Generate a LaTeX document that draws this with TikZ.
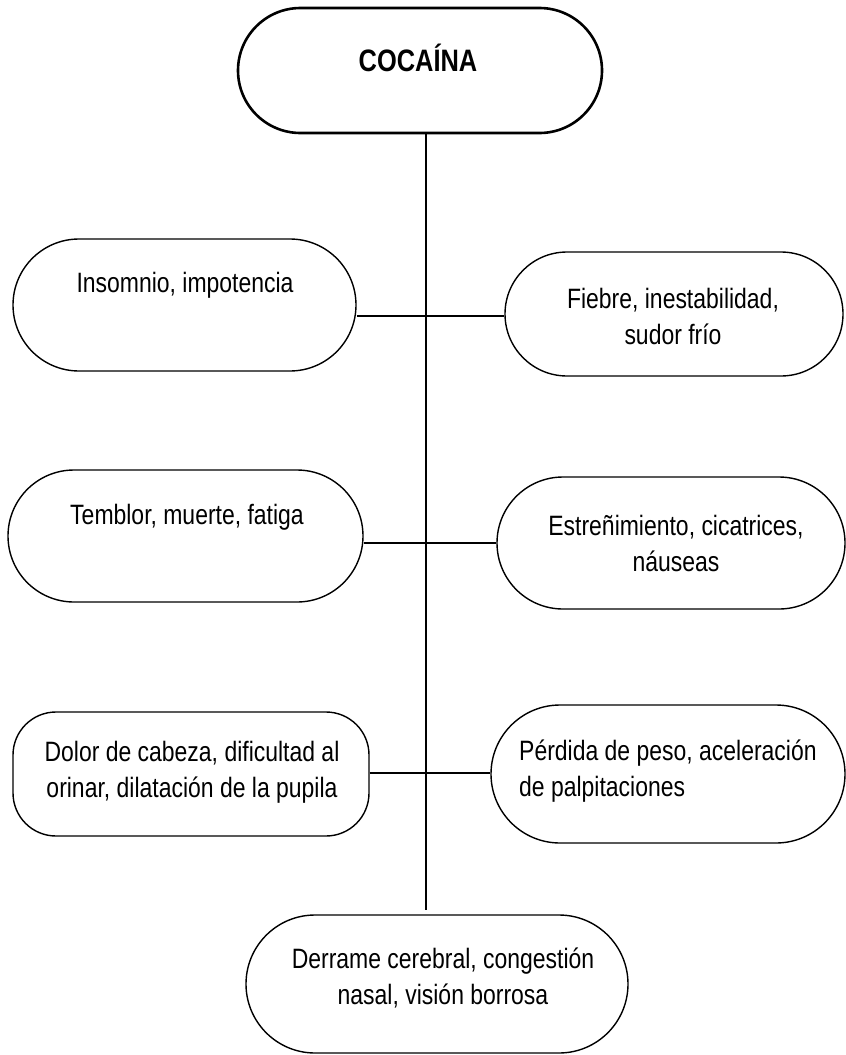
\documentclass[tikz,border=0pt]{standalone}
\usepackage{fontspec}
\setmainfont{Liberation Sans}[FakeStretch=0.82]
\usetikzlibrary{shapes,positioning}
\def\Droga{COCAÍNA}

\begin{document}
\begin{tikzpicture}[x=1pt,y=-1pt,% List of styles applied to all, to override specify on a case-by-case
			every node/.style={
				align=center,	% use this so that the "\\" for line break works
				inner sep=0pt	% text sits exactly where it is placed
			},
			caja/.style={rounded rectangle,draw=black,fill=white,line width=1.4pt},
			texto/.style={font=\fontsize{28}{36}\selectfont},
			every edge/.style={draw,line width=1.4pt}
		]
		\useasboundingbox (0,0) rectangle (846,1055);
		% boxes
		\node[caja,line width=2.6pt,minimum width=364pt,minimum height=125pt](C0) at (420,70.5){};
		\node[caja,minimum width=343pt,minimum height=132pt](L1) at (184.5,305){};
		\node[caja,minimum width=338pt,minimum height=124pt](R1) at (674,314){};
		\node[caja,minimum width=355pt,minimum height=132pt](L2) at (185.5,536){};
		\node[caja,minimum width=348pt,minimum height=132pt](R2) at (671,543){};
		\node[rectangle,rounded corners=43pt,draw=black,line width=1.4pt,minimum width=356pt,minimum height=124pt](L3) at (191,774){};
		\node[caja,minimum width=354pt,minimum height=138pt](R3) at (668,774){};
		\node[caja,minimum width=382pt,minimum height=138pt](B0) at (437,984){};
		% texts
		\node[font=\fontsize{31}{36}\selectfont\bfseries](T0) at (418,58){\Droga};
		\node[texto](T1) at (185,285){Insomnio, impotencia};
		\node[texto](T2) at (673,316){Fiebre, inestabilidad,\\sudor frío};
		\node[texto](T3) at (187,517){Temblor, muerte, fatiga};
		\node[texto](T4) at (676,543.5){Estreñimiento, cicatrices,\\náuseas};
		\node[texto](T5) at (192,772){Dolor de cabeza, dificultad al\\orinar, dilatación de la pupila};
		\node[texto,align=left,anchor=west](T6) at (519,771){Pérdida de peso, aceleración\\de palpitaciones};
		\node[texto](T7) at (443,977.5){Derrame cerebral, congestión\\nasal, visión borrosa};
		% trunk and branches
		\coordinate (J0) at (426,133);
		\coordinate (J1) at (426,316);
		\coordinate (J2) at (426,543);
		\coordinate (J3) at (426,773);
		\coordinate (J4) at (426,910);
		\path
		(J0)edge []	(J4)
		(L1.east|-J1)edge []	(R1.west|-J1)
		(L2.east|-J2)edge []	(R2.west|-J2)
		(L3.east|-J3)edge []	(R3.west|-J3)
		;
	\end{tikzpicture}
\end{document}
